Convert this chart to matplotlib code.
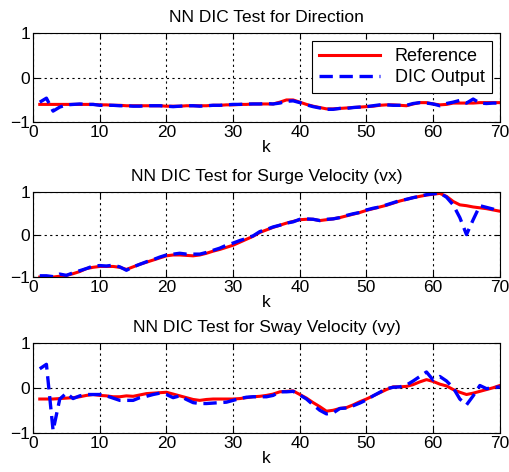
import matplotlib
matplotlib.use("Agg")
import matplotlib.pyplot as plt
import numpy as np

plt.rcParams['font.family'] = ['Liberation Sans', 'DejaVu Sans']

k = np.arange(1, 71)

dir_ref = [-0.60, -0.60, -0.60, -0.60, -0.60, -0.60, -0.60, -0.60, -0.60, -0.61,
           -0.61, -0.62, -0.62, -0.63, -0.63, -0.63, -0.63, -0.63, -0.63, -0.64,
           -0.64, -0.64, -0.63, -0.63, -0.63, -0.63, -0.62, -0.62, -0.61, -0.61,
           -0.60, -0.60, -0.59, -0.59, -0.59, -0.59, -0.55, -0.50, -0.50, -0.55,
           -0.60, -0.64, -0.67, -0.70, -0.70, -0.69, -0.68, -0.67, -0.66, -0.65,
           -0.64, -0.62, -0.61, -0.61, -0.62, -0.63, -0.59, -0.56, -0.56, -0.59,
           -0.61, -0.60, -0.57, -0.57, -0.57, -0.57, -0.56, -0.56, -0.56, -0.56]
dir_dic = [-0.55, -0.46, -0.75, -0.66, -0.61, -0.60, -0.59, -0.60, -0.60, -0.62,
           -0.62, -0.62, -0.63, -0.63, -0.64, -0.64, -0.63, -0.63, -0.63, -0.64,
           -0.65, -0.64, -0.63, -0.63, -0.64, -0.63, -0.62, -0.62, -0.61, -0.60,
           -0.60, -0.59, -0.59, -0.59, -0.58, -0.59, -0.57, -0.53, -0.52, -0.56,
           -0.61, -0.65, -0.68, -0.71, -0.71, -0.69, -0.69, -0.67, -0.66, -0.65,
           -0.63, -0.61, -0.61, -0.62, -0.62, -0.62, -0.58, -0.56, -0.57, -0.59,
           -0.63, -0.58, -0.55, -0.51, -0.57, -0.48, -0.57, -0.58, -0.57, -0.57]

surge_ref = [-1.00, -1.00, -1.00, -0.98, -0.96, -0.92, -0.87, -0.80, -0.77, -0.75,
             -0.75, -0.75, -0.77, -0.82, -0.76, -0.70, -0.65, -0.60, -0.55, -0.50,
             -0.48, -0.48, -0.49, -0.50, -0.48, -0.44, -0.39, -0.35, -0.30, -0.25,
             -0.18, -0.11, -0.04, 0.05, 0.11, 0.17, 0.22, 0.27, 0.31, 0.35,
             0.36, 0.36, 0.33, 0.35, 0.37, 0.40, 0.44, 0.48, 0.52, 0.57,
             0.61, 0.65, 0.69, 0.74, 0.79, 0.83, 0.87, 0.90, 0.93, 0.95,
             0.97, 0.90, 0.78, 0.70, 0.68, 0.65, 0.63, 0.61, 0.58, 0.55]
surge_dic = [-0.97, -0.97, -0.99, -0.93, -0.96, -0.90, -0.85, -0.80, -0.74, -0.73,
             -0.74, -0.72, -0.76, -0.84, -0.76, -0.70, -0.64, -0.59, -0.53, -0.48,
             -0.46, -0.44, -0.46, -0.46, -0.46, -0.42, -0.37, -0.32, -0.25, -0.20,
             -0.14, -0.09, -0.03, 0.07, 0.12, 0.18, 0.22, 0.27, 0.30, 0.36,
             0.37, 0.36, 0.33, 0.36, 0.37, 0.40, 0.45, 0.49, 0.52, 0.58,
             0.62, 0.65, 0.70, 0.75, 0.80, 0.83, 0.87, 0.90, 0.94, 0.96,
             0.98, 0.88, 0.70, 0.40, 0.00, 0.35, 0.68, 0.64, 0.60, 0.53]

sway_ref = [-0.25, -0.25, -0.25, -0.24, -0.23, -0.22, -0.20, -0.17, -0.15, -0.17,
            -0.18, -0.20, -0.20, -0.18, -0.19, -0.16, -0.13, -0.12, -0.11, -0.10,
            -0.14, -0.18, -0.22, -0.26, -0.28, -0.26, -0.25, -0.25, -0.25, -0.25,
            -0.24, -0.22, -0.20, -0.19, -0.17, -0.14, -0.09, -0.08, -0.07, -0.15,
            -0.23, -0.33, -0.42, -0.52, -0.50, -0.46, -0.44, -0.38, -0.31, -0.25,
            -0.18, -0.11, -0.04, 0.02, 0.02, 0.03, 0.07, 0.13, 0.18, 0.14,
            0.08, 0.04, -0.04, -0.10, -0.15, -0.12, -0.08, -0.04, 0.00, 0.05]
sway_dic = [0.42, 0.52, -0.95, -0.25, -0.12, -0.24, -0.18, -0.15, -0.15, -0.15,
            -0.18, -0.23, -0.28, -0.28, -0.28, -0.22, -0.19, -0.15, -0.12, -0.15,
            -0.22, -0.18, -0.26, -0.33, -0.35, -0.35, -0.34, -0.33, -0.32, -0.28,
            -0.24, -0.21, -0.20, -0.20, -0.20, -0.17, -0.09, -0.09, -0.08, -0.16,
            -0.25, -0.38, -0.50, -0.58, -0.56, -0.46, -0.45, -0.40, -0.34, -0.27,
            -0.18, -0.10, -0.02, 0.01, 0.02, 0.06, 0.15, 0.25, 0.35, 0.17,
            0.25, 0.15, 0.00, -0.25, -0.38, -0.18, 0.05, -0.02, 0.00, 0.02]

titles = ['NN DIC Test for Direction',
          'NN DIC Test for Surge Velocity (vx)',
          'NN DIC Test for Sway Velocity (vy)']
series = [(dir_ref, dir_dic), (surge_ref, surge_dic), (sway_ref, sway_dic)]
boxes = [[0.065, 0.741, 0.917, 0.189],
         [0.065, 0.413, 0.917, 0.180],
         [0.065, 0.083, 0.917, 0.191]]

fig = plt.figure(figsize=(5.09, 4.72), dpi=100)
for i in range(3):
    ax = fig.add_axes(boxes[i])
    ref, dic = series[i]
    ax.plot(k, ref, color='red', lw=2.2, label='Reference')
    ax.plot(k, dic, color='blue', lw=2.4, ls=(0, (4, 2)), label='DIC Output')
    ax.set_xlim(0, 70)
    ax.set_ylim(-1, 1)
    ax.set_xticks(range(0, 71, 10))
    ax.set_yticks([-1, 0, 1])
    ax.grid(True, color='black', ls=(0, (2, 3)), lw=0.8)
    ax.tick_params(direction='in', labelsize=12.5, length=4, top=True, right=True, pad=2)
    ax.set_xlabel('k', fontsize=12.5, labelpad=0)
    ax.set_title(titles[i], fontsize=12.5, pad=8)
    for s in ax.spines.values():
        s.set_color('black')
        s.set_linewidth(0.8)
    if i == 0:
        leg = ax.legend(loc='upper right', fontsize=13, fancybox=False,
                        framealpha=1, edgecolor='black', borderaxespad=0.45,
                        handlelength=3.4, borderpad=0.4, labelspacing=0.2,
                        handletextpad=0.8)
        leg.get_frame().set_linewidth(0.8)

fig.savefig('out.png', dpi=100)
